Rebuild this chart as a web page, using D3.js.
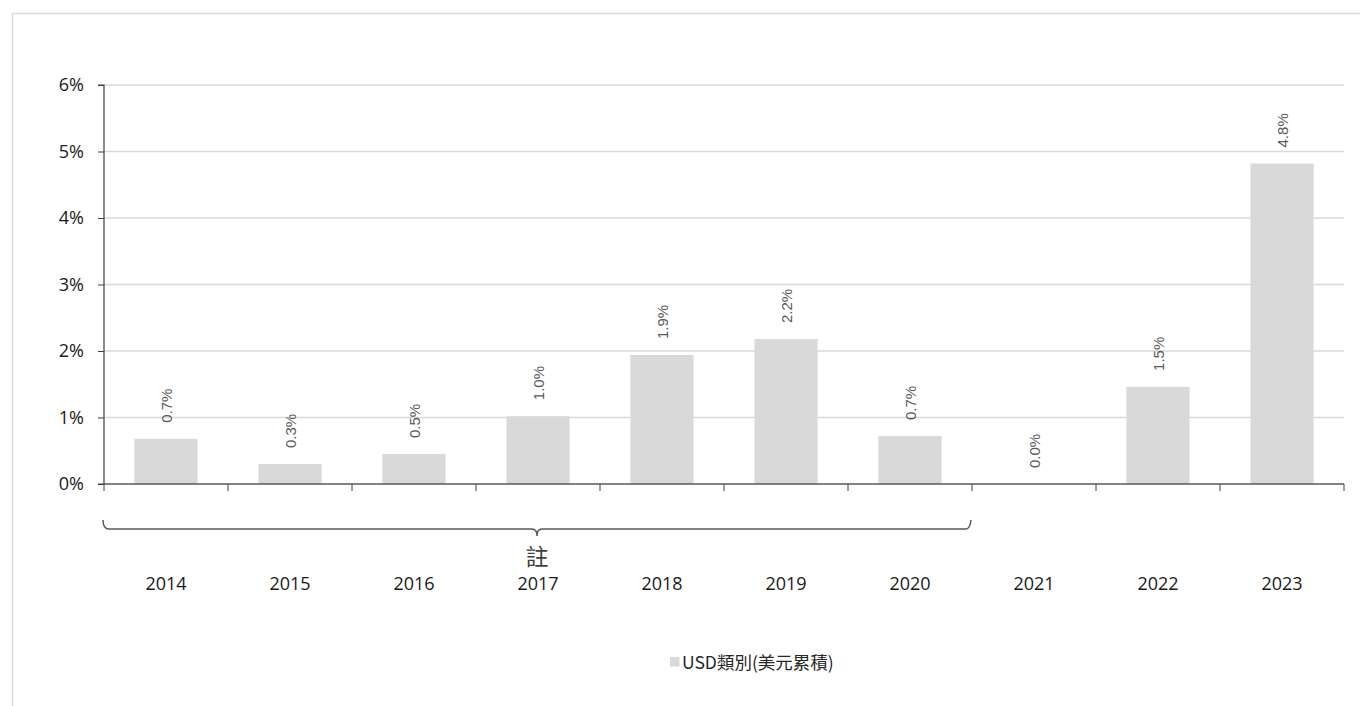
<!DOCTYPE html>
<html><head><meta charset="utf-8">
<script src="https://cdn.jsdelivr.net/npm/d3@7"></script>
<style>body{margin:0;background:#fff;}svg{display:block;font-family:"Noto Sans CJK TC","Open Sans",sans-serif;}</style>
</head><body>
<svg id="c" width="1360" height="706"></svg>
<script>
const categories = ["2014","2015","2016","2017","2018","2019","2020","2021","2022","2023"];
const values = [0.68, 0.30, 0.45, 1.02, 1.94, 2.18, 0.72, 0.00, 1.46, 4.82];
const labels = ["0.7%","0.3%","0.5%","1.0%","1.9%","2.2%","0.7%","0.0%","1.5%","4.8%"];
const yTicks = [0,1,2,3,4,5,6];
const seriesName = "USD類別(美元累積)";
const braceNote = "註";
const braceRange = ["2014","2020"];

const svg = d3.select("#c");
svg.append("rect").attr("x",12.5).attr("y",13.5).attr("width",1400).attr("height",720)
  .attr("fill","none").attr("stroke","#d9d9d9").attr("stroke-width",1.5);

const L=104, R=1344, T=85, B=484;
const xb = d3.scaleBand().domain(categories).range([L,R]);
const x = d3.scaleBand().domain(categories).range([L,R]).paddingInner(0.49).paddingOuter(0.245);
const y = d3.scaleLinear().domain([0,6]).range([B,T]);

// gridlines
svg.append("g").selectAll("line").data(yTicks.filter(d=>d>0)).join("line")
  .attr("x1",L).attr("x2",R).attr("y1",d=>y(d)).attr("y2",d=>y(d))
  .attr("stroke","#d9d9d9").attr("stroke-width",1.5);

// bars
svg.append("g").selectAll("rect").data(values).join("rect")
  .attr("x",(d,i)=>x(categories[i])).attr("width",x.bandwidth())
  .attr("y",d=>y(d)).attr("height",d=>B-y(d)).attr("fill","#d9d9d9");

// value labels
svg.append("g").selectAll("text").data(values).join("text")
  .attr("transform",(d,i)=>`translate(${x(categories[i])+x.bandwidth()/2+5.5},${y(d)-16}) rotate(-90)`)
  .attr("text-anchor","start").attr("font-size",15).attr("fill","#595959")
  .attr("font-family","Liberation Sans, Arial, sans-serif")
  .text((d,i)=>labels[i]);

// y axis
const ya = d3.axisLeft(y).tickValues(yTicks).tickFormat(d=>d+"%").tickSize(6).tickPadding(14);
const gy = svg.append("g").attr("transform",`translate(${L},0)`).call(ya);
gy.select(".domain").attr("stroke","#404040").attr("stroke-width",1.2).attr("d",`M-6,${T}H0V${B}H-6`);
gy.selectAll(".tick line").attr("stroke","#404040");
gy.selectAll(".tick text").attr("font-size",18).attr("fill","#1a1a1a").attr("font-family","Open Sans, sans-serif");

// x axis line + boundary ticks
svg.append("line").attr("x1",L).attr("x2",R).attr("y1",B).attr("y2",B).attr("stroke","#595959").attr("stroke-width",1.5);
const bounds = categories.map(c=>xb(c)).concat([R]);
svg.append("g").selectAll("line").data(bounds).join("line")
  .attr("x1",d=>d).attr("x2",d=>d).attr("y1",B).attr("y2",B+7).attr("stroke","#404040");

// category labels
svg.append("g").selectAll("text").data(categories).join("text")
  .attr("x",d=>xb(d)+xb.bandwidth()/2).attr("y",590).attr("text-anchor","middle")
  .attr("font-size",18).attr("fill","#1a1a1a").attr("font-family","Open Sans, sans-serif").text(d=>d);

// brace
const bx0 = xb(braceRange[0]), bx1 = xb(braceRange[1])+xb.bandwidth();
const bm = (bx0+bx1)/2 - 1;
const by = 529;
const bp = d3.path();
bp.moveTo(bx0-1, by-9); bp.quadraticCurveTo(bx0-1, by, bx0+5, by);
bp.lineTo(bm-5, by); bp.quadraticCurveTo(bm, by, bm, by+7);
bp.quadraticCurveTo(bm, by, bm+5, by);
bp.lineTo(bx1-6, by); bp.quadraticCurveTo(bx1-2, by, bx1-1, by-9);
svg.append("path").attr("d",bp.toString()).attr("fill","none").attr("stroke","#595959").attr("stroke-width",1.5);
svg.append("text").attr("x",bm).attr("y",565).attr("text-anchor","middle")
  .attr("font-size",23).attr("fill","#404040").text(braceNote);

// legend
svg.append("rect").attr("x",670).attr("y",657).attr("width",9.5).attr("height",9.5).attr("fill","#d9d9d9");
svg.append("text").attr("x",682).attr("y",668.5).attr("font-size",17.5).attr("fill","#262626")
  .attr("font-family","Noto Sans CJK TC, sans-serif").text(seriesName);
</script>
</body></html>
